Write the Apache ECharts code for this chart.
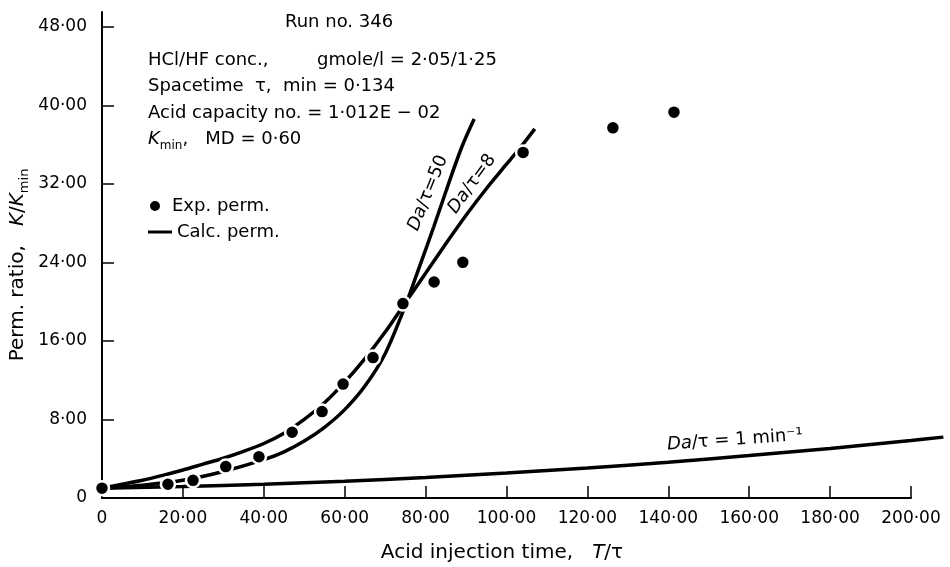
<!DOCTYPE html>
<html>
<head>
<meta charset="utf-8">
<script src="https://cdn.jsdelivr.net/npm/echarts@6/dist/echarts.min.js"></script>
<style>
  html, body { margin: 0; padding: 0; background: #fff; }
  #chart { width: 950px; height: 567px; }
</style>
</head>
<body>
<div id="chart"></div>
<script>
// Axis ticks
const xTicks = [0, 20, 40, 60, 80, 100, 120, 140, 160, 180, 200];
const yTicks = [0, 8, 16, 24, 32, 40, 48];

// Experimental permeability ratio K/Kmin vs. T/tau
const expT = [0, 16.3, 22.5, 30.6, 38.8, 47.0, 54.4, 59.6, 67.0, 74.4, 82.1, 89.2, 104.1, 126.3, 141.4];
const expK = [1.0, 1.4, 1.8, 3.2, 4.2, 6.7, 8.8, 11.6, 14.3, 19.8, 22.0, 24.0, 35.2, 37.7, 39.3];

// Calculated permeability, Da/tau = 1 min^-1 (runs slightly past the last tick)
const calc1T = [0, 20, 40, 60, 80, 100, 120, 140, 160, 180, 200, 208];
const calc1K = [1.0, 1.16, 1.40, 1.71, 2.09, 2.54, 3.06, 3.65, 4.32, 5.05, 5.86, 6.2];

// Calculated permeability, Da/tau = 8
const calc8T = [0, 5, 10, 15, 20, 25, 30, 35, 40, 45, 50, 55, 60, 65, 70, 75, 80, 85, 90, 95, 100, 104, 107];
const calc8K = [1.0, 1.4, 1.8, 2.3, 2.85, 3.45, 4.05, 4.75, 5.55, 6.6, 8.0, 9.7, 11.8, 14.2, 16.9, 19.9, 22.9, 25.9, 28.8, 31.5, 34.0, 36.0, 37.6];

// Calculated permeability, Da/tau = 50
const calc50T = [0, 10, 20, 30, 40, 45, 50, 55, 60, 65, 70, 75, 78, 82, 86, 89, 92];
const calc50K = [1.0, 1.3, 1.8, 2.7, 3.9, 4.7, 5.8, 7.2, 9.0, 11.4, 14.7, 19.6, 23.0, 27.6, 32.4, 35.8, 38.6];

const FONT = '"DejaVu Sans", sans-serif';
const pairs = (xs, ys) => xs.map((x, i) => [x, ys[i]]);
const fmt = v => (v === 0 ? '0' : v.toFixed(2).replace('.', '\u00b7'));

// Plot geometry: x from 0 to 200 over the main grid
const GRID_LEFT = 102, GRID_RIGHT = 39, GRID_TOP = 12, GRID_BOTTOM = 69, W = 950;
const X_MAX = 200, X_EXT = 208;
const pxPerUnit = (W - GRID_LEFT - GRID_RIGHT) / X_MAX;
const extRight = W - GRID_LEFT - X_EXT * pxPerUnit;

function rich(size) {
  return {
    i: { fontStyle: 'italic', fontFamily: FONT, fontSize: size, lineHeight: 26 },
    sub: { fontFamily: FONT, fontSize: Math.round(size * 0.65), lineHeight: 12, verticalAlign: 'bottom' }
  };
}

function label(x, y, text, size, extra) {
  const el = {
    type: 'text', x: x, y: y, silent: true,
    style: Object.assign({
      text: text, fill: '#000', fontFamily: FONT, fontSize: size, lineHeight: 26,
      align: 'left', verticalAlign: 'middle', rich: rich(size)
    }, (extra && extra.style) || {})
  };
  if (extra && extra.rotation !== undefined) el.rotation = extra.rotation;
  return el;
}

const deg = Math.PI / 180;

const curveLine = (name, data, axisIdx) => ({
  name: name, type: 'line', data: data, showSymbol: false, symbol: 'none',
  xAxisIndex: axisIdx, yAxisIndex: axisIdx,
  smooth: 0.3, z: 2, silent: true,
  itemStyle: { color: '#000' },
  lineStyle: { color: '#000', width: 3.5 }
});

const hiddenAxis = {
  show: false, splitLine: { show: false }, axisLine: { show: false }, axisTick: { show: false }, axisLabel: { show: false }
};

const chart = echarts.init(document.getElementById('chart'), null, { renderer: 'canvas' });
chart.setOption({
  animation: false,
  backgroundColor: '#fff',
  grid: [
    { left: GRID_LEFT, right: GRID_RIGHT, top: GRID_TOP, bottom: GRID_BOTTOM },
    { left: GRID_LEFT, right: extRight, top: GRID_TOP, bottom: GRID_BOTTOM }
  ],
  xAxis: [
    {
      type: 'value', min: 0, max: X_MAX, interval: 20,
      axisLine: { show: true, onZero: false, lineStyle: { color: '#000', width: 2 } },
      axisTick: { show: true, inside: true, length: 12, customValues: xTicks, lineStyle: { color: '#000', width: 1.5 } },
      axisLabel: { customValues: xTicks, formatter: fmt, color: '#000', fontFamily: FONT, fontSize: 17, margin: 12 },
      splitLine: { show: false }
    },
    Object.assign({ type: 'value', gridIndex: 1, min: 0, max: X_EXT }, hiddenAxis)
  ],
  yAxis: [
    {
      type: 'value', min: 0, max: 49.5, interval: 8,
      axisLine: { show: true, onZero: false, lineStyle: { color: '#000', width: 2 } },
      axisTick: { show: true, inside: true, length: 12, customValues: yTicks, lineStyle: { color: '#000', width: 1.5 } },
      axisLabel: { customValues: yTicks, formatter: fmt, color: '#000', fontFamily: FONT, fontSize: 17, margin: 15 },
      splitLine: { show: false }
    },
    Object.assign({ type: 'value', gridIndex: 1, min: 0, max: 49.5 }, hiddenAxis)
  ],
  legend: [
    {
      left: 143, top: 192, orient: 'vertical',
      itemWidth: 24, itemHeight: 12,
      textStyle: { fontFamily: FONT, fontSize: 18, color: '#000' },
      data: ['Exp. perm.'], selectedMode: false
    },
    {
      left: 143, top: 218, orient: 'vertical',
      itemWidth: 24, itemHeight: 3, icon: 'rect',
      itemStyle: { color: '#000' },
      textStyle: { fontFamily: FONT, fontSize: 18, color: '#000' },
      data: ['Calc. perm.'], selectedMode: false
    }
  ],
  series: [
    curveLine('Calc. perm.', pairs(calc1T, calc1K), 1),
    curveLine('Calc. perm.', pairs(calc8T, calc8K), 0),
    curveLine('Calc. perm.', pairs(calc50T, calc50K), 0),
    {
      name: 'Exp. perm.', type: 'scatter', data: pairs(expT, expK),
      symbol: 'circle', symbolSize: 14, z: 5, silent: true,
      itemStyle: { color: '#000', opacity: 1, borderColor: '#fff', borderWidth: 2.5 }
    }
  ],
  graphic: [
    label(285, 22, 'Run no. 346', 18),
    label(148, 60, 'HCl/HF conc.,', 18),
    label(317, 60, 'gmole/l = 2\u00b705/1\u00b725', 18),
    label(148, 86, 'Spacetime  \u03c4,  min = 0\u00b7134', 18),
    label(148, 113, 'Acid capacity no. = 1\u00b7012E \u2212 02', 18),
    label(148, 139, '{i|K}{sub|min},   MD = 0\u00b760', 18),
    label(428, 193, '{i|Da}/\u03c4=50', 18, { rotation: 68 * deg, style: { align: 'center' } }),
    label(472, 184, '{i|Da}/\u03c4=8', 18, { rotation: 54 * deg, style: { align: 'center' } }),
    label(735, 440, '{i|Da}/\u03c4 = 1 min\u207b\u00b9', 18, { rotation: 4 * deg, style: { align: 'center' } }),
    label(18, 265, 'Perm. ratio,   {i|K}/{i|K}{sub|min}', 20, { rotation: 90 * deg, style: { align: 'center' } }),
    label(502, 553, 'Acid injection time,   {i|T}/\u03c4', 20, { style: { align: 'center' } })
  ]
});
</script>
</body>
</html>
